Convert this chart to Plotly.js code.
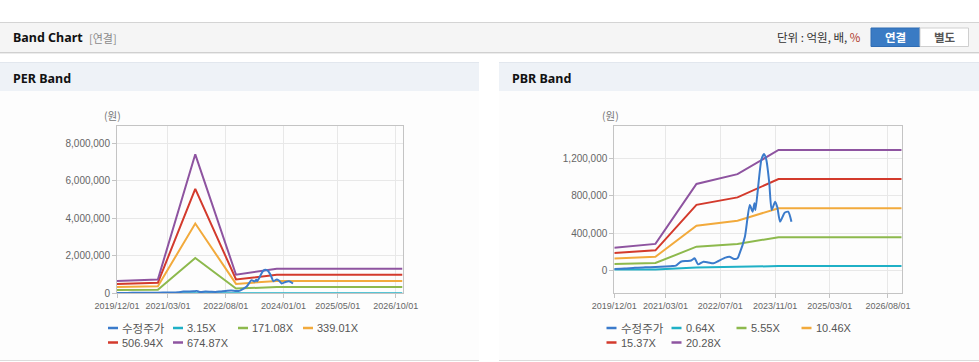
<!DOCTYPE html>
<html><head><meta charset="utf-8">
<script src="https://cdn.plot.ly/plotly-3.0.1.min.js"></script>
<style>html,body{margin:0;padding:0;background:#fff;}#c{width:979px;height:362px;}</style>
</head><body><div id="c"></div>
<script>
// ---- data ----
const priceName = '수정주가';
const priceDates = ['2019-12-01','2020-03-01','2020-06-01','2020-09-01','2020-12-01','2021-03-01','2021-05-01','2021-06-01','2021-07-15','2021-09-01','2021-10-15','2021-11-15','2021-12-15','2022-02-01','2022-03-15','2022-05-01','2022-06-15','2022-08-15','2022-09-20','2022-11-01','2022-12-01','2022-12-15','2023-02-05','2023-03-20','2023-04-15','2023-05-01','2023-05-10','2023-07-01','2023-07-25','2023-08-15','2023-09-10','2023-10-01','2023-11-01','2023-11-20','2023-12-15','2024-01-25','2024-02-25','2024-03-25'];
const priceValues = [15000,18000,28000,32000,35000,40000,45000,50000,92000,100000,105000,129000,64000,92000,85000,75000,100000,136000,146000,121000,129000,165000,361000,702000,630000,720000,648000,1186000,1250000,1186000,935000,648000,738000,680000,523000,619000,630000,523000];

const perNames = ['3.15X','171.08X','339.01X','506.94X','674.87X'];
const perDates = ['2019-12-01','2020-12-01','2021-11-01','2022-11-01','2023-11-01','2026-12-01'];
const per315 = [3000,3400,34600,4700,6100,6100];
const per171 = [170000,190000,1880000,250000,335000,335000];
const per339 = [335000,375000,3720000,500000,660000,660000];
const per507 = [500000,560000,5570000,740000,984000,984000];
const per675 = [650000,740000,7410000,990000,1310000,1310000];

const pbrNames = ['0.64X','5.55X','10.46X','15.37X','20.28X'];
const pbrDates = ['2019-12-01','2020-12-01','2021-12-01','2022-03-01','2022-12-01','2023-12-01','2026-12-01'];
const pbr064 = [8000,9000,29000,30000,33000,45000,45000];
const pbr555 = [67000,78000,254000,261000,283000,356000,356000];
const pbr1046 = [126000,146000,480000,492000,534000,668000,668000];
const pbr1537 = [185000,215000,704000,723000,784000,982000,982000];
const pbr2028 = [243000,284000,929000,953000,1034000,1294000,1294000];

const perTickVals = ['2019-12-01','2021-03-01','2022-08-01','2024-01-01','2025-05-01','2026-10-01'];
const perTickText = ['2019/12/01','2021/03/01','2022/08/01','2024/01/01','2025/05/01','2026/10/01'];
const pbrTickVals = ['2019-12-01','2021-03-01','2022-07-01','2023-11-01','2025-03-01','2026-08-01'];
const pbrTickText = ['2019/12/01','2021/03/01','2022/07/01','2023/11/01','2025/03/01','2026/08/01'];

// ---- styling ----
const W = 979, H = 362;
const X = p => p / W, Y = p => 1 - p / H;
const priceColor = '#3b7bcb';
const bandColors = ['#1fb0c6','#8db94d','#f2aa3c','#d33a2c','#8e54a0'];
const KR = '"Noto Sans CJK KR", "Noto Sans", sans-serif';
const NUM = '"Liberation Sans", Arial, sans-serif';

const traces = [];
const perBands = [per315, per171, per339, per507, per675];
perBands.forEach((v, i) => traces.push({x: perDates, y: v, name: perNames[i], type: 'scatter', mode: 'lines',
  line: {color: bandColors[i], width: 2}, xaxis: 'x', yaxis: 'y', showlegend: false, hoverinfo: 'x+y'}));
traces.push({x: priceDates, y: priceValues, name: priceName, type: 'scatter', mode: 'lines',
  line: {color: priceColor, width: 2, shape: 'spline', smoothing: 0.6}, xaxis: 'x', yaxis: 'y', showlegend: false});
const pbrBands = [pbr064, pbr555, pbr1046, pbr1537, pbr2028];
pbrBands.forEach((v, i) => traces.push({x: pbrDates, y: v, name: pbrNames[i], type: 'scatter', mode: 'lines',
  line: {color: bandColors[i], width: 2}, xaxis: 'x2', yaxis: 'y2', showlegend: false}));
traces.push({x: priceDates, y: priceValues, name: priceName, type: 'scatter', mode: 'lines',
  line: {color: priceColor, width: 2, shape: 'spline', smoothing: 0.6}, xaxis: 'x2', yaxis: 'y2', showlegend: false});

const axCommon = {showline: true, mirror: true, linecolor: '#c4c4c4', linewidth: 1, gridcolor: '#e8e8e8',
  ticks: 'outside', ticklen: 4, tickcolor: '#c4c4c4', zeroline: false, fixedrange: true};

const shapes = [];
const annotations = [];
// top header bar
shapes.push({type: 'rect', xref: 'paper', yref: 'paper', x0: 0, x1: 1, y0: Y(52), y1: Y(22.5), fillcolor: '#f5f5f5', line: {width: 0}, layer: 'below'});
shapes.push({type: 'line', xref: 'paper', yref: 'paper', x0: 0, x1: 1, y0: Y(22.5), y1: Y(22.5), line: {color: '#d4d4d4', width: 1}});
shapes.push({type: 'line', xref: 'paper', yref: 'paper', x0: 0, x1: 1, y0: Y(52.5), y1: Y(52.5), line: {color: '#d0d0d0', width: 1}});
shapes.push({type: 'line', xref: 'paper', yref: 'paper', x0: 0, x1: 1, y0: Y(53.5), y1: Y(53.5), line: {color: '#ececec', width: 1}});
// panels
[[0, 479], [499, 979]].forEach(([a, b]) => {
  shapes.push({type: 'rect', xref: 'paper', yref: 'paper', x0: X(a), x1: X(b), y0: Y(360), y1: Y(91), fillcolor: '#fdfdfd', line: {width: 0}, layer: 'below'});
  shapes.push({type: 'rect', xref: 'paper', yref: 'paper', x0: X(a), x1: X(b), y0: Y(91), y1: Y(62.5), fillcolor: '#eef2f7', line: {width: 0}, layer: 'below'});
  shapes.push({type: 'line', xref: 'paper', yref: 'paper', x0: X(a), x1: X(b), y0: Y(62.5), y1: Y(62.5), line: {color: '#e2e7ee', width: 1}});
  shapes.push({type: 'line', xref: 'paper', yref: 'paper', x0: X(a), x1: X(b), y0: Y(360.5), y1: Y(360.5), line: {color: '#dcdcdc', width: 1}});
});
// buttons
shapes.push({type: 'rect', xref: 'paper', yref: 'paper', x0: X(871), x1: X(920), y0: Y(46.5), y1: Y(28), fillcolor: '#3a7bc4', line: {color: '#2f6cb3', width: 1}});
shapes.push({type: 'rect', xref: 'paper', yref: 'paper', x0: X(920), x1: X(968.5), y0: Y(46.5), y1: Y(28), fillcolor: '#ffffff', line: {color: '#cfcfcf', width: 1}});

function txt(text, x, y, size, color, opts) {
  annotations.push(Object.assign({text: text, x: X(x), y: Y(y), xref: 'paper', yref: 'paper', showarrow: false,
    xanchor: 'left', yanchor: 'middle', font: {size: size, color: color, family: KR}}, opts || {}));
}
txt('<b>Band Chart</b>', 11, 37.5, 12.5, '#111', {font: {size: 12.5, color: '#111', family: '"Noto Sans", sans-serif'}});
txt('[연결]', 87, 38, 11, '#8a8a8a');
txt('단위 : 억원, 배, <span style="color:#b0392e">%</span>', 863, 37.5, 11.5, '#333', {xanchor: 'right'});
txt('<b>연결</b>', 895.5, 37.5, 11.5, '#ffffff', {xanchor: 'center'});
txt('<b>별도</b>', 944.5, 37.5, 11.5, '#555555', {xanchor: 'center'});
txt('<b>PER Band</b>', 11, 78, 12.5, '#111', {font: {size: 12.5, color: '#111', family: '"Noto Sans", sans-serif'}});
txt('<b>PBR Band</b>', 510, 78, 12.5, '#111', {font: {size: 12.5, color: '#111', family: '"Noto Sans", sans-serif'}});
txt('(원)', 112, 115, 10.5, '#777', {xanchor: 'center'});
txt('(원)', 610, 115, 10.5, '#777', {xanchor: 'center'});

// legends
function legend(x0, names) {
  const all = [{n: priceName, c: priceColor}].concat(names.map((n, i) => ({n: n, c: bandColors[i]})));
  all.forEach((it, i) => {
    const col = i % 4, row = Math.floor(i / 4);
    const lx = x0 + col * 65, ly = 328 + row * 14.5;
    shapes.push({type: 'line', xref: 'paper', yref: 'paper', x0: X(lx), x1: X(lx + 10), y0: Y(ly), y1: Y(ly), line: {color: it.c, width: 2.5}});
    const isKr = i === 0;
    txt(it.n, lx + 12, ly, isKr ? 11.5 : 11, '#555', {font: {size: isKr ? 11.5 : 11, color: '#555', family: isKr ? KR : NUM}});
  });
}
legend(108, perNames);
legend(606.5, pbrNames);

const tickFontX = {size: 9, color: '#666', family: NUM};
const tickFontY = {size: 10, color: '#666', family: NUM};
const layout = {
  width: W, height: H, margin: {l: 0, r: 0, t: 0, b: 0}, paper_bgcolor: '#ffffff', plot_bgcolor: 'rgba(0,0,0,0)',
  showlegend: false, shapes: shapes, annotations: annotations,
  xaxis: Object.assign({}, axCommon, {type: 'date', domain: [X(117), X(402.5)], anchor: 'y', range: ['2019-12-01', '2026-12-01'],
    tickmode: 'array', tickvals: perTickVals, ticktext: perTickText, tickfont: tickFontX}),
  yaxis: Object.assign({}, axCommon, {domain: [Y(293.3), Y(126)], anchor: 'x', range: [0, 8920000],
    tickmode: 'array', tickvals: [0, 2000000, 4000000, 6000000, 8000000], tickformat: ',d', tickfont: tickFontY}),
  xaxis2: Object.assign({}, axCommon, {type: 'date', domain: [X(614.3), X(901.7)], anchor: 'y2', range: ['2019-12-01', '2026-12-01'],
    tickmode: 'array', tickvals: pbrTickVals, ticktext: pbrTickText, tickfont: tickFontX}),
  yaxis2: Object.assign({}, axCommon, {domain: [Y(292.7), Y(126)], anchor: 'x2', range: [-241000, 1552000],
    tickmode: 'array', tickvals: [0, 400000, 800000, 1200000], tickformat: ',d', tickfont: tickFontY})
};
Plotly.newPlot('c', traces, layout, {displayModeBar: false, staticPlot: true});
</script></body></html>
